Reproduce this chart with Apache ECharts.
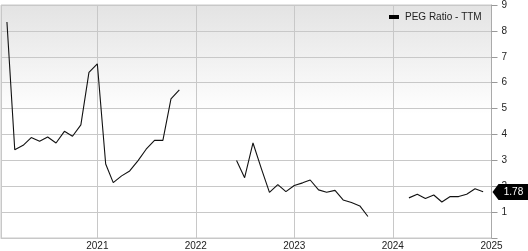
<!DOCTYPE html>
<html>
<head>
<meta charset="utf-8">
<script src="https://cdn.jsdelivr.net/npm/echarts@6/dist/echarts.min.js"></script>
<style>
  html, body { margin: 0; padding: 0; background: #fff; }
  #chart { width: 528px; height: 251px; }
</style>
</head>
<body>
<div id="chart"></div>
<script>
const seriesName = 'PEG Ratio - TTM';
const months = [
  '2020-02-01','2020-03-01','2020-04-01','2020-05-01','2020-06-01','2020-07-01','2020-08-01','2020-09-01','2020-10-01','2020-11-01','2020-12-01',
  '2021-01-01','2021-02-01','2021-03-01','2021-04-01','2021-05-01','2021-06-01','2021-07-01','2021-08-01','2021-09-01','2021-10-01','2021-11-01','2021-12-01',
  '2022-01-01','2022-02-01','2022-03-01','2022-04-01','2022-05-01','2022-06-01','2022-07-01','2022-08-01','2022-09-01','2022-10-01','2022-11-01','2022-12-01',
  '2023-01-01','2023-02-01','2023-03-01','2023-04-01','2023-05-01','2023-06-01','2023-07-01','2023-08-01','2023-09-01','2023-10-01','2023-11-01','2023-12-01',
  '2024-01-01','2024-02-01','2024-03-01','2024-04-01','2024-05-01','2024-06-01','2024-07-01','2024-08-01','2024-09-01','2024-10-01','2024-11-01','2024-12-01'
];
const pegValues = [
  8.34, 3.41, 3.58, 3.88, 3.74, 3.90, 3.67, 4.12, 3.93, 4.37, 6.40,
  6.73, 2.86, 2.14, 2.40, 2.59, 2.99, 3.43, 3.77, 3.77, 5.37, 5.72, null,
  null, null, null, null, null, 2.99, 2.33, 3.67, 2.68, 1.76, 2.06, 1.79,
  2.03, 2.13, 2.24, 1.86, 1.77, 1.84, 1.47, 1.37, 1.24, 0.83, null, null,
  null, null, 1.55, 1.69, 1.53, 1.66, 1.39, 1.60, 1.60, 1.69, 1.90, 1.79
];
const lastValue = 1.78;
const xMin = '2020-01-10';
const xMax = '2025-01-01';
const yTicks = [1, 2, 3, 4, 5, 6, 7, 8, 9];

const font = '"Liberation Sans", Arial, Helvetica, sans-serif';
const chart = echarts.init(document.getElementById('chart'), null, { renderer: 'canvas' });
chart.setOption({
  animation: false,
  textStyle: { fontFamily: font },
  legend: {
    left: 384, top: 7,
    itemWidth: 10, itemHeight: 4, itemGap: 5,
    icon: 'rect',
    textStyle: { fontSize: 10, color: '#222', fontFamily: font, padding: [0, 0, 0, 1] },
    data: [{ name: seriesName, itemStyle: { color: '#000' } }]
  },
  grid: {
    left: 1, right: 36.5, top: 3.5, bottom: 8.2,
    show: true,
    borderColor: '#c8c8c8', borderWidth: 1,
    backgroundColor: {
      type: 'linear', x: 0, y: 0, x2: 0, y2: 1,
      colorStops: [
        { offset: 0, color: '#e3e3e3' },
        { offset: 0.47, color: '#ffffff' },
        { offset: 1, color: '#ffffff' }
      ]
    }
  },
  xAxis: {
    type: 'time',
    min: xMin, max: xMax,
    splitNumber: 5,
    minInterval: 365 * 24 * 3600 * 1000,
    axisLine: { show: true, lineStyle: { color: '#c8c8c8' } },
    axisTick: { show: false },
    axisLabel: {
      fontSize: 10, color: '#222', fontFamily: font, margin: 3,
      formatter: '{yyyy}', showMinLabel: false, showMaxLabel: true,
      hideOverlap: false
    },
    splitLine: { show: true, lineStyle: { color: '#c8c8c8', width: 1 } }
  },
  yAxis: {
    type: 'value',
    position: 'right',
    min: 0, max: 9, interval: 1,
    axisLine: { show: true, lineStyle: { color: '#aaaaaa' } },
    axisTick: { show: true, length: 6, lineStyle: { color: '#999' } },
    axisLabel: {
      fontSize: 10, color: '#222', fontFamily: font, margin: 10,
      formatter: function (v) { return yTicks.indexOf(v) >= 0 ? String(v) : ''; }
    },
    splitLine: { show: true, lineStyle: { color: '#c8c8c8', width: 1 } }
  },
  series: [{
    name: seriesName,
    type: 'line',
    data: months.map((m, i) => [m, pegValues[i]]),
    showSymbol: false,
    connectNulls: false,
    lineStyle: { color: '#111', width: 1.1 },
    itemStyle: { color: '#000' },
    markPoint: {
      silent: true,
      data: [{
        coord: [xMax, lastValue],
        symbol: 'path://M0,8 L6,0 L36,0 L36,16 L6,16 Z',
        symbolSize: [36, 16],
        symbolOffset: [19, 0],
        itemStyle: { color: '#000' },
        label: {
          show: true, position: 'inside', offset: [3, 0],
          formatter: String(lastValue.toFixed(2)),
          color: '#fff', fontSize: 10, fontFamily: font
        }
      }]
    }
  }]
});
</script>
</body>
</html>
